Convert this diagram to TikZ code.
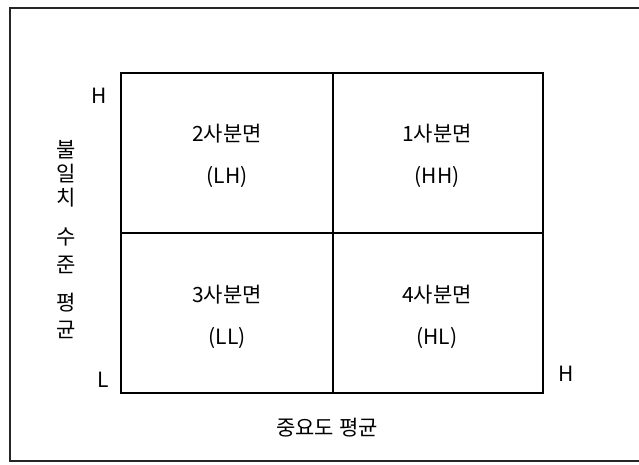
\documentclass[tikz,border=0pt]{standalone}
\usepackage{fontspec}
\setmainfont{Noto Sans CJK KR}
\usepackage{tikz}

\begin{document}
\begin{tikzpicture}[x=1pt,y=-1pt,
    lbl/.style={inner sep=0pt,font=\fontsize{21}{24}\selectfont},
    quad/.style={inner sep=0pt,align=center,font=\fontsize{21}{42}\selectfont}]
    \useasboundingbox (0,0) rectangle (639,465);
    \draw[black!85,line width=1.2pt] (639,8)--(10,8)--(10,461)--(639,461); % outer frame
    \coordinate (nw) at (121,73); \coordinate (se) at (543,393);
    \draw[line width=1.6pt] (nw) rectangle (se) (333,73)--(333,393) (121,233)--(543,233);
    \foreach \k/\x/\y/\txt in {1/437/156/{1사분면\\(HH)},2/227/156/{2사분면\\(LH)},
            3/227/317/{3사분면\\(LL)},4/437/317/{4사분면\\(HL)}}{
            \node[quad] (q\k) at (\x,\y) {\txt};}
    \foreach \c/\y [count=\k] in {불/150,일/174,치/198,수/237,준/265,평/303,균/330}{
            \node[lbl] (v\k) at (66,\y) {\c};}
    \node[lbl] (yH) at (99,96) {H};
    \node[lbl] (xL) at (103,380) {L};
    \node[lbl] (xH) at (566,374) {H};
    \node[lbl] (xlab) at (327,428) {중요도 평균};
\end{tikzpicture}
\end{document}
